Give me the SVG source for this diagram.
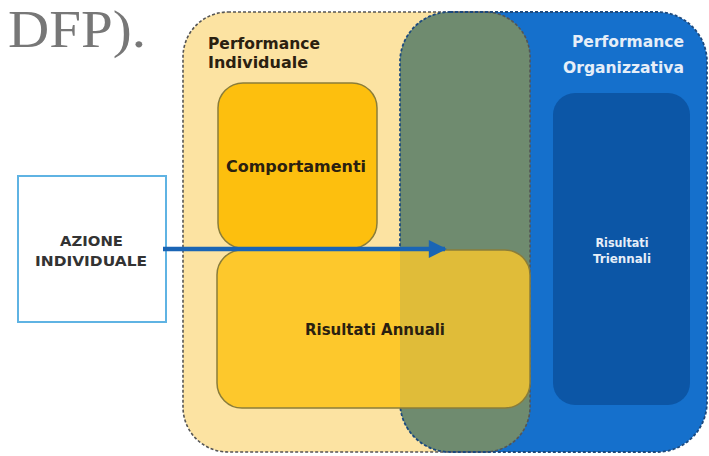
<svg xmlns="http://www.w3.org/2000/svg" width="709" height="456" viewBox="0 0 709 456">
  <style>
    .lbl { font-family: "DejaVu Sans", "Liberation Sans", sans-serif; font-weight: bold; }
    .dark { fill: #2a2010; }
    .white { fill: #e6eef8; }
  </style>
  <defs>
    <clipPath id="beigeClip">
      <rect x="183" y="12" width="347" height="440" rx="45"/>
    </clipPath>
    <clipPath id="risClip">
      <rect x="217" y="250" width="313" height="158" rx="25"/>
    </clipPath>
    <marker id="arrowHead" viewBox="0 0 10 10" refX="9" refY="5" markerWidth="4.5" markerHeight="4" orient="auto" markerUnits="strokeWidth">
      <path d="M0,0 L10,5 L0,10 Z" fill="#1a65b5"/>
    </marker>
  </defs>

  <rect width="709" height="456" fill="#ffffff"/>

  <g id="title">
    <text x="8" y="47" font-family="Liberation Serif, serif" font-size="52" fill="#777777" textLength="138" lengthAdjust="spacingAndGlyphs">DFP).</text>
  </g>

  <g id="performance-individuale">
    <rect x="183" y="12" width="347" height="440" rx="45" fill="#fce3a2"/>
  </g>
  <g id="performance-organizzativa">
    <rect x="400" y="12" width="307" height="440" rx="50" fill="#1570cc"/>
  </g>
  <g id="overlap">
    <rect x="400" y="12" width="307" height="440" rx="50" fill="#6f8b6f" clip-path="url(#beigeClip)"/>
  </g>
  <g id="outlines">
    <rect x="183" y="12" width="347" height="440" rx="45" fill="none" stroke="#555555" stroke-width="1.6" stroke-dasharray="3 2"/>
    <rect x="400" y="12" width="307" height="440" rx="50" fill="none" stroke="#1d4a7e" stroke-width="1.8" stroke-dasharray="3 2"/>
  </g>

  <g id="label-individuale">
    <text class="lbl dark" x="208" y="49" font-size="15.5" textLength="112" lengthAdjust="spacingAndGlyphs">Performance</text>
    <text class="lbl dark" x="208" y="68" font-size="15.5" textLength="100" lengthAdjust="spacingAndGlyphs">Individuale</text>
  </g>
  <g id="label-organizzativa">
    <text class="lbl white" x="572" y="47" font-size="15.5" textLength="112" lengthAdjust="spacingAndGlyphs">Performance</text>
    <text class="lbl white" x="563" y="73" font-size="15.5" textLength="121" lengthAdjust="spacingAndGlyphs">Organizzativa</text>
  </g>

  <g id="comportamenti">
    <rect x="218" y="83" width="159" height="165" rx="25" fill="#fdbf0e" stroke="#8a7d3a" stroke-width="1.5"/>
    <text class="lbl dark" x="226" y="172" font-size="16" textLength="140" lengthAdjust="spacingAndGlyphs">Comportamenti</text>
  </g>

  <g id="risultati-annuali">
    <rect x="217" y="250" width="313" height="158" rx="25" fill="#fdc82c"/>
    <rect x="400" y="250" width="130" height="158" fill="#6f8b6f" fill-opacity="0.2" clip-path="url(#risClip)"/>
    <rect x="217" y="250" width="313" height="158" rx="25" fill="none" stroke="#8a7d3a" stroke-width="1.5"/>
    <text class="lbl dark" x="305" y="335" font-size="16" textLength="140" lengthAdjust="spacingAndGlyphs">Risultati Annuali</text>
  </g>

  <g id="risultati-triennali">
    <rect x="553" y="93" width="137" height="312" rx="22" fill="#0c56a6"/>
    <text class="lbl white" x="622" y="247" font-size="11.5" text-anchor="middle" textLength="53" lengthAdjust="spacingAndGlyphs">Risultati</text>
    <text class="lbl white" x="622" y="263" font-size="11.5" text-anchor="middle" textLength="58" lengthAdjust="spacingAndGlyphs">Triennali</text>
  </g>

  <g id="azione-individuale">
    <rect x="18" y="176" width="148" height="146" fill="#ffffff" stroke="#5fb3e3" stroke-width="2"/>
    <text class="lbl" x="60" y="246" font-size="14" fill="#333333" textLength="63" lengthAdjust="spacingAndGlyphs">AZIONE</text>
    <text class="lbl" x="35" y="266" font-size="14" fill="#333333" textLength="112" lengthAdjust="spacingAndGlyphs">INDIVIDUALE</text>
  </g>

  <g id="connectors">
    <line x1="163" y1="249" x2="445" y2="249" stroke="#1a65b5" stroke-width="4.5" marker-end="url(#arrowHead)"/>
  </g>
</svg>
